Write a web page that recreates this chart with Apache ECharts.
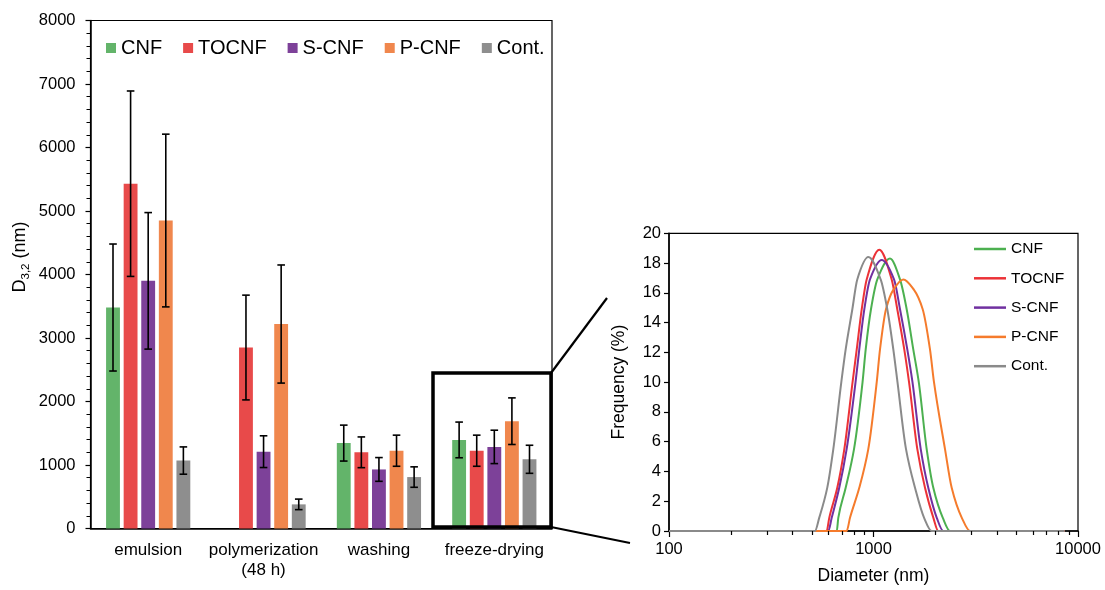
<!DOCTYPE html>
<html><head><meta charset="utf-8">
<script src="https://cdn.jsdelivr.net/npm/echarts@6/dist/echarts.min.js"></script>
<style>html,body{margin:0;padding:0;background:#fff}#c{width:1105px;height:590px}</style>
</head><body><div id="c"></div>
<script>
// ---------- Left chart: D3,2 by processing step ----------
const categories = ['emulsion', 'polymerization\n(48 h)', 'washing', 'freeze-drying'];
const seriesNames = ['CNF', 'TOCNF', 'S-CNF', 'P-CNF', 'Cont.'];
const cnfMean   = [3480, null, 1345, 1395];
const cnfErr    = [1000, null, 283, 281];
const tocnfMean = [5430, 2850, 1200, 1225];
const tocnfErr  = [1460, 825, 242, 245];
const scnfMean  = [3900, 1210, 930, 1285];
const scnfErr   = [1075, 250, 187, 263];
const pcnfMean  = [4850, 3220, 1225, 1690];
const pcnfErr   = [1360, 930, 245, 367];
const contMean  = [1070, 380, 810, 1090];
const contErr   = [215, 83, 161, 221];
const yTicksLeft = [0, 8000, 1000];

// ---------- Right chart: size distribution (freeze-dried) ----------
const cnfDist   = [[100,0],[661,0],[673,0.9],[731,2.9],[803,5.5],[884,10],[916,12.2],[972,14.9],[1044,16.9],[1204,18.3],[1348,16.9],[1453,14.9],[1565,12.2],[1665,10],[1820,5.5],[1961,2.9],[2180,0.9],[2366,0],[8600,0]];
const tocnfDist = [[100,0],[590,0],[608,0.9],[665,2.9],[720,5.5],[790,10],[828,12.2],[876,14.9],[926,16.9],[1068,18.9],[1227,16.9],[1307,14.9],[1414,12.2],[1492,10],[1638,5.5],[1786,2.9],[1961,0.9],[2075,0],[8600,0]];
const scnfDist  = [[100,0],[601,0],[625,0.9],[680,2.9],[739,5.5],[817,10],[852,12.2],[902,14.9],[961,16.9],[1097,18.2],[1260,16.9],[1348,14.9],[1463,12.2],[1551,10],[1702,5.5],[1853,2.9],[2037,0.9],[2194,0],[8600,0]];
const pcnfDist  = [[100,0],[739,0],[768,0.9],[852,2.9],[943,5.5],[1037,10],[1076,12.2],[1151,14.9],[1250,16.2],[1399,16.9],[1578,16.2],[1740,14.9],[1889,12.2],[1976,10],[2237,5.5],[2412,2.9],[2700,0.9],[2965,0],[8600,0]];
const contDist  = [[100,0],[517,0],[543,0.9],[594,2.9],[636,5.5],[696,10],[731,12.2],[788,14.9],[833,16.9],[943,18.4],[1084,16.9],[1168,14.9],[1250,12.2],[1310,10],[1442,5.5],[1596,2.9],[1766,0.9],[1926,0],[8600,0]];
const minorTicksX = [200,300,400,500,600,700,800,900,2000,3000,4000,5000,6000,7000,8000,9000];
const yTicksRight = [0, 20, 2];

const FONT = "'Liberation Sans', Arial, Helvetica, sans-serif";
const barColors  = ['#63B46A', '#E84A4A', '#7D4199', '#F0874D', '#8E8E8E'];
const lineColors = ['#4CB050', '#EC3237', '#7030A0', '#F57B2C', '#8A8A8A'];
const barMeans = [cnfMean, tocnfMean, scnfMean, pcnfMean, contMean];
const barErrs  = [cnfErr, tocnfErr, scnfErr, pcnfErr, contErr];
const dists = [cnfDist, tocnfDist, scnfDist, pcnfDist, contDist];
const CAT_GAP = 0.27, BAR_GAP = 0.27;

const errData = [];
barMeans.forEach((m, s) => m.forEach((v, c) => {
  if (v != null) errData.push([c, v - barErrs[s][c], v + barErrs[s][c], s]);
}));

// Monotone cubic (Fritsch-Butland) path through pixel points: smooth, no overshoot
function monotonePath(pts) {
  const n = pts.length, dx = [], m = [], t = [];
  for (let i = 0; i < n - 1; i++) {
    dx[i] = pts[i + 1][0] - pts[i][0];
    m[i] = (pts[i + 1][1] - pts[i][1]) / dx[i];
  }
  t[0] = 0; t[n - 1] = 0;
  for (let i = 1; i < n - 1; i++) {
    if (m[i - 1] * m[i] <= 0) t[i] = 0;
    else {
      const w1 = 2 * dx[i] + dx[i - 1], w2 = dx[i] + 2 * dx[i - 1];
      t[i] = (w1 + w2) / (w1 / m[i - 1] + w2 / m[i]);
    }
  }
  let d = 'M' + pts[0][0] + ' ' + pts[0][1];
  for (let i = 0; i < n - 1; i++) {
    const h = dx[i] / 3, p0 = pts[i], p1 = pts[i + 1];
    d += ' C' + (p0[0] + h) + ' ' + (p0[1] + t[i] * h) + ' ' +
         (p1[0] - h) + ' ' + (p1[1] - t[i + 1] * h) + ' ' + p1[0] + ' ' + p1[1];
  }
  return d;
}

const series = [];
seriesNames.forEach((n, i) => {
  series.push({
    type: 'bar', name: n, xAxisIndex: 0, yAxisIndex: 0,
    data: barMeans[i].map(v => v == null ? '-' : v),
    barGap: (BAR_GAP * 100) + '%', barCategoryGap: (CAT_GAP * 100) + '%',
    itemStyle: { color: barColors[i] }
  });
});
series.push({
  type: 'custom', xAxisIndex: 0, yAxisIndex: 0, data: errData, z: 5, silent: true, clip: false,
  encode: { x: 0, y: [1, 2] },
  renderItem: function (params, api) {
    const cat = api.value(0), lo = api.value(1), hi = api.value(2), s = api.value(3);
    const band = api.size([1, 0])[0];
    const barW = band * (1 - CAT_GAP) / (5 + 4 * BAR_GAP);
    const off = (s - 2) * barW * (1 + BAR_GAP);
    const pLo = api.coord([cat, lo]), pHi = api.coord([cat, hi]);
    const x = pLo[0] + off, cap = 3.8;
    const st = { stroke: '#000', lineWidth: 1.6 };
    return { type: 'group', children: [
      { type: 'line', shape: { x1: x, y1: pLo[1], x2: x, y2: pHi[1] }, style: st },
      { type: 'line', shape: { x1: x - cap, y1: pLo[1], x2: x + cap, y2: pLo[1] }, style: st },
      { type: 'line', shape: { x1: x - cap, y1: pHi[1], x2: x + cap, y2: pHi[1] }, style: st }
    ]};
  }
});
seriesNames.forEach((n, i) => {
  const pts = dists[i];
  series.push({
    type: 'custom', name: n + '|d', xAxisIndex: 1, yAxisIndex: 1, silent: true, clip: false,
    data: pts, encode: { x: 0, y: 1 },
    itemStyle: { color: lineColors[i] },
    renderItem: function (params, api) {
      if (params.dataIndex !== 0) return null;
      const px = pts.map(p => api.coord(p));
      return { type: 'path', shape: { pathData: monotonePath(px) },
        style: { fill: 'none', stroke: lineColors[i], lineWidth: 2, lineJoin: 'round' } };
    }
  });
});
series.push({
  type: 'custom', xAxisIndex: 1, yAxisIndex: 1, silent: true, clip: false, z: 10,
  data: minorTicksX.map(v => [v, 0]),
  encode: { x: 0, y: 1 },
  renderItem: function (params, api) {
    const p = api.coord([api.value(0), 0]);
    const x = Math.round(p[0]) + 0.5;
    return { type: 'line', shape: { x1: x, y1: p[1], x2: x, y2: p[1] + 4 },
      style: { stroke: '#000', lineWidth: 1.2 } };
  }
});

const axisLineStyle = { color: '#000', width: 1.5 };
const option = {
  animation: false,
  backgroundColor: '#fff',
  textStyle: { fontFamily: FONT, color: '#000' },
  grid: [
    { left: 90.5, top: 20.5, width: 461.5, height: 508, show: true, borderColor: '#000', borderWidth: 1.2, backgroundColor: 'transparent' },
    { left: 669, top: 233.3, width: 409, height: 300, show: true, borderColor: '#000', borderWidth: 1.2, backgroundColor: 'transparent' }
  ],
  legend: [
    { data: seriesNames, left: 106, top: 38, padding: 0, itemWidth: 10, itemHeight: 10, itemGap: 21,
      icon: 'rect', selectedMode: false,
      textStyle: { fontSize: 20, fontFamily: FONT, color: '#000' } },
    { data: seriesNames.map((n, i) => ({ name: n + '|d', itemStyle: { color: lineColors[i] } })),
      orient: 'vertical', left: 974, top: 240, padding: 0,
      itemWidth: 32, itemHeight: 2.5, itemGap: 11.3, icon: 'rect', selectedMode: false,
      formatter: n => n.split('|')[0],
      textStyle: { fontSize: 15.5, lineHeight: 18, fontFamily: FONT, color: '#000' } }
  ],
  xAxis: [
    { type: 'category', gridIndex: 0, data: categories,
      axisLine: { lineStyle: axisLineStyle }, axisTick: { show: false },
      axisLabel: { interval: 0, fontSize: 17, lineHeight: 20, color: '#000', margin: 12, fontFamily: FONT } },
    { type: 'log', gridIndex: 1, logBase: 10, min: 100, max: 10000,
      axisLine: { lineStyle: axisLineStyle }, axisTick: { show: true, length: 6, lineStyle: { color: '#000', width: 1.2 } },
      splitLine: { show: false },
      axisLabel: { fontSize: 16.5, color: '#000', margin: 9.5, fontFamily: FONT, formatter: v => String(Math.round(v)) },
      name: 'Diameter (nm)', nameLocation: 'middle', nameGap: 36,
      nameTextStyle: { fontSize: 17.5, color: '#000', fontFamily: FONT } }
  ],
  yAxis: [
    { type: 'value', gridIndex: 0, min: yTicksLeft[0], max: yTicksLeft[1], interval: yTicksLeft[2],
      axisLine: { show: true, lineStyle: axisLineStyle },
      axisTick: { show: true, length: 5, lineStyle: { color: '#000', width: 1.2 } },
      minorTick: { show: true, splitNumber: 5, length: 4, lineStyle: { color: '#000', width: 1 } },
      splitLine: { show: false },
      axisLabel: { fontSize: 16.5, color: '#000', margin: 15, fontFamily: FONT, formatter: v => String(v) } },
    { type: 'value', gridIndex: 1, min: yTicksRight[0], max: yTicksRight[1], interval: yTicksRight[2],
      axisLine: { show: true, lineStyle: axisLineStyle },
      axisTick: { show: true, length: 5, lineStyle: { color: '#000', width: 1.2 } },
      splitLine: { show: false },
      axisLabel: { fontSize: 16.5, color: '#000', margin: 8, fontFamily: FONT },
      name: 'Frequency (%)', nameLocation: 'middle', nameGap: 41,
      nameTextStyle: { fontSize: 17.5, color: '#000', fontFamily: FONT } }
  ],
  graphic: [
    { type: 'text', x: 20, y: 257, rotation: Math.PI / 2, z: 100,
      style: { text: '{a|D}{b|3,2}{a| (nm)}', align: 'center', verticalAlign: 'middle',
        rich: {
          a: { fontSize: 18, fontFamily: FONT, fill: '#000', lineHeight: 24, verticalAlign: 'middle' },
          b: { fontSize: 11.5, fontFamily: FONT, fill: '#000', lineHeight: 12, verticalAlign: 'bottom' }
        } } },
    { type: 'rect', z: 100, shape: { x: 433, y: 373, width: 118, height: 154 },
      style: { fill: 'none', stroke: '#000', lineWidth: 3.5 } },
    { type: 'line', z: 100, shape: { x1: 551, y1: 373, x2: 607, y2: 298 },
      style: { stroke: '#000', lineWidth: 2.2 } },
    { type: 'line', z: 100, shape: { x1: 551, y1: 527, x2: 630, y2: 543 },
      style: { stroke: '#000', lineWidth: 2.2 } }
  ],
  series: series
};
const chart = echarts.init(document.getElementById('c'));
chart.setOption(option);
</script>
</body></html>
